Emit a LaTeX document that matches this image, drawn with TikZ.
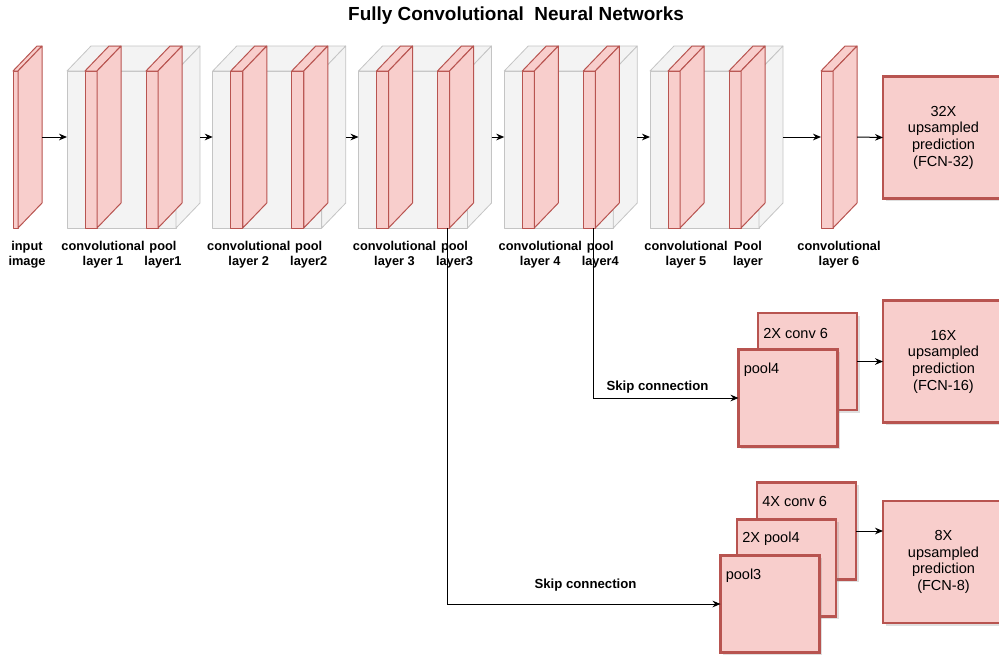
\documentclass[tikz,border=0pt]{standalone}
\usepackage{fontspec}
\setmainfont{Liberation Sans}
\usepackage{tikz}
\usetikzlibrary{calc,shadows,arrows.meta}

\definecolor{redfill}{HTML}{F8CECC}
\definecolor{redline}{HTML}{B85450}
\definecolor{cubefill}{HTML}{F3F3F3}
\definecolor{cubeline}{HTML}{C4C4C4}

\begin{document}
\begin{tikzpicture}[x=0.75pt,y=-0.75pt,
  cube/.style={draw=cubeline,fill=cubefill,line width=0.6pt,line join=round},
  slab/.style={draw=redline,fill=redfill,line width=0.75pt,line join=round},
  boxshadow/.style={drop shadow={opacity=0.25,shadow xshift=2pt,shadow yshift=-2pt}},
  outbox/.style={draw=redline,fill=redfill,line width=2.2pt,outer sep=0pt,boxshadow,
    minimum width=90.75pt,minimum height=91.5pt,align=center,
    font=\fontsize{10.9}{12.5}\selectfont},
  stackbox/.style={draw=redline,fill=redfill,line width=2.2pt,outer sep=0pt,boxshadow,
    minimum width=74.25pt,minimum height=72.75pt},
  intxt/.style={anchor=west,inner sep=0pt,font=\fontsize{10.9}{12.5}\selectfont},
  lbl/.style={align=center,inner sep=0pt,font=\bfseries\fontsize{9.6}{11.25}\selectfont},
  skiptxt/.style={inner sep=0pt,font=\bfseries\fontsize{9.9}{11}\selectfont},
  arr/.style={-{Stealth[length=6pt,width=5pt]},line width=0.75pt}]

\useasboundingbox (0,0) rectangle (999,658);
\clip (0,0) rectangle (999,658);

\node[font=\bfseries\fontsize{14.2}{16}\selectfont] (title) at (516,16)
  {Fully Convolutional~ Neural Networks};

% input image
\draw[slab] (13,71) rectangle ++(5,157);
\draw[slab] (13,71) -- ++(24,-25) -- ++(5,0) -- ++(-24,25) -- cycle;
\draw[slab] (18,71) -- ++(24,-25) -- ++(0,157) -- ++(-24,25) -- cycle;
\coordinate (img-out) at (42,137);
\node[lbl] (img) at (27,254.5) {input\\image};

% conv + pool blocks
\foreach \i in {0,...,4}{
  \pgfmathsetmacro\bx{67+145.75*\i}
  \draw[cube] (\bx,71) rectangle ++(109,157);
  \draw[cube] (\bx,71) -- ++(24,-25) -- ++(109,0) -- ++(-24,25) -- cycle;
  \draw[cube] (\bx+109,71) -- ++(24,-25) -- ++(0,157) -- ++(-24,25) -- cycle;
  \foreach \s in {18,79}{
    \draw[slab] (\bx+\s,71) rectangle ++(12,157);
    \draw[slab] (\bx+\s,71) -- ++(24,-25) -- ++(12,0) -- ++(-24,25) -- cycle;
    \draw[slab] (\bx+\s+12,71) -- ++(24,-25) -- ++(0,157) -- ++(-24,25) -- cycle;
  }
  \coordinate (cube\i-in) at (\bx,137);
  \coordinate (cube\i-out) at (\bx+133,137);
}

\foreach \i/\n in {0/1,1/2,2/3,3/4,4/5}
  \node[lbl] (conv\n) at ({67+145.75*\i+36},254.5) {convolutional\\layer \n};
\foreach \i/\n in {0/1,1/2,2/3,3/4}
  \node[lbl] (pool\n) at ({67+145.75*\i+96},254.5) {pool\\layer\n};
\node[lbl] (pool5) at (748,254.5) {Pool\\layer};

% conv layer 6
\draw[slab] (821,71) rectangle ++(12,157);
\draw[slab] (821,71) -- ++(24,-25) -- ++(12,0) -- ++(-24,25) -- cycle;
\draw[slab] (833,71) -- ++(24,-25) -- ++(0,157) -- ++(-24,25) -- cycle;
\coordinate (c6-in) at (821,137);
\coordinate (c6-out) at (857,137);
\node[lbl] (conv6) at (839,254.5) {convolutional\\layer 6};

% predictions
\node[outbox] (fcn32) at (943.5,137.5) {32X\\upsampled\\prediction\\(FCN-32)};
\node[outbox] (fcn16) at (943.5,361.5) {16X\\upsampled\\prediction\\(FCN-16)};
\node[outbox] (fcn8) at (943.5,562) {8X\\upsampled\\prediction\\(FCN-8)};

\node[stackbox] (c6a) at (807.5,361.5) {};
\node[intxt] (c6a-t) at ($(c6a.north west)+(5,20)$) {2X conv 6};
\node[stackbox] (p4a) at (788,398) {};
\node[intxt] (p4a-t) at ($(p4a.north west)+(5,20)$) {pool4};

\node[stackbox] (c6b) at (806.5,531) {};
\node[intxt] (c6b-t) at ($(c6b.north west)+(5,19)$) {4X conv 6};
\node[stackbox] (p4b) at (786.5,568) {};
\node[intxt] (p4b-t) at ($(p4b.north west)+(5,19)$) {2X pool4};
\node[stackbox] (p3a) at (770,604) {};
\node[intxt] (p3a-t) at ($(p3a.north west)+(5,20)$) {pool3};

% arrows
\draw[arr] (img-out) -- (cube0-in);
\foreach \i [evaluate=\i as \j using int(\i+1)] in {0,...,3}
  \draw[arr] (cube\i-out) -- (cube\j-in);
\draw[arr] (cube4-out) -- (c6-in);
\draw[arr] (c6-out) -- (fcn32.west);
\draw[arr] (c6a) -- (fcn16);
\draw[arr] (c6b.east) -- (c6b.east -| fcn8.west);

% skip connections
\coordinate (p3) at (447,228);
\coordinate (p4) at (593,228);
\draw[arr] (p4) |- (p4a);
\draw[arr] (p3) |- (p3a);
\node[skiptxt] (skip4) at (657.5,387) {Skip connection};
\node[skiptxt] (skip3) at (585.5,585) {Skip connection};

\end{tikzpicture}
\end{document}
